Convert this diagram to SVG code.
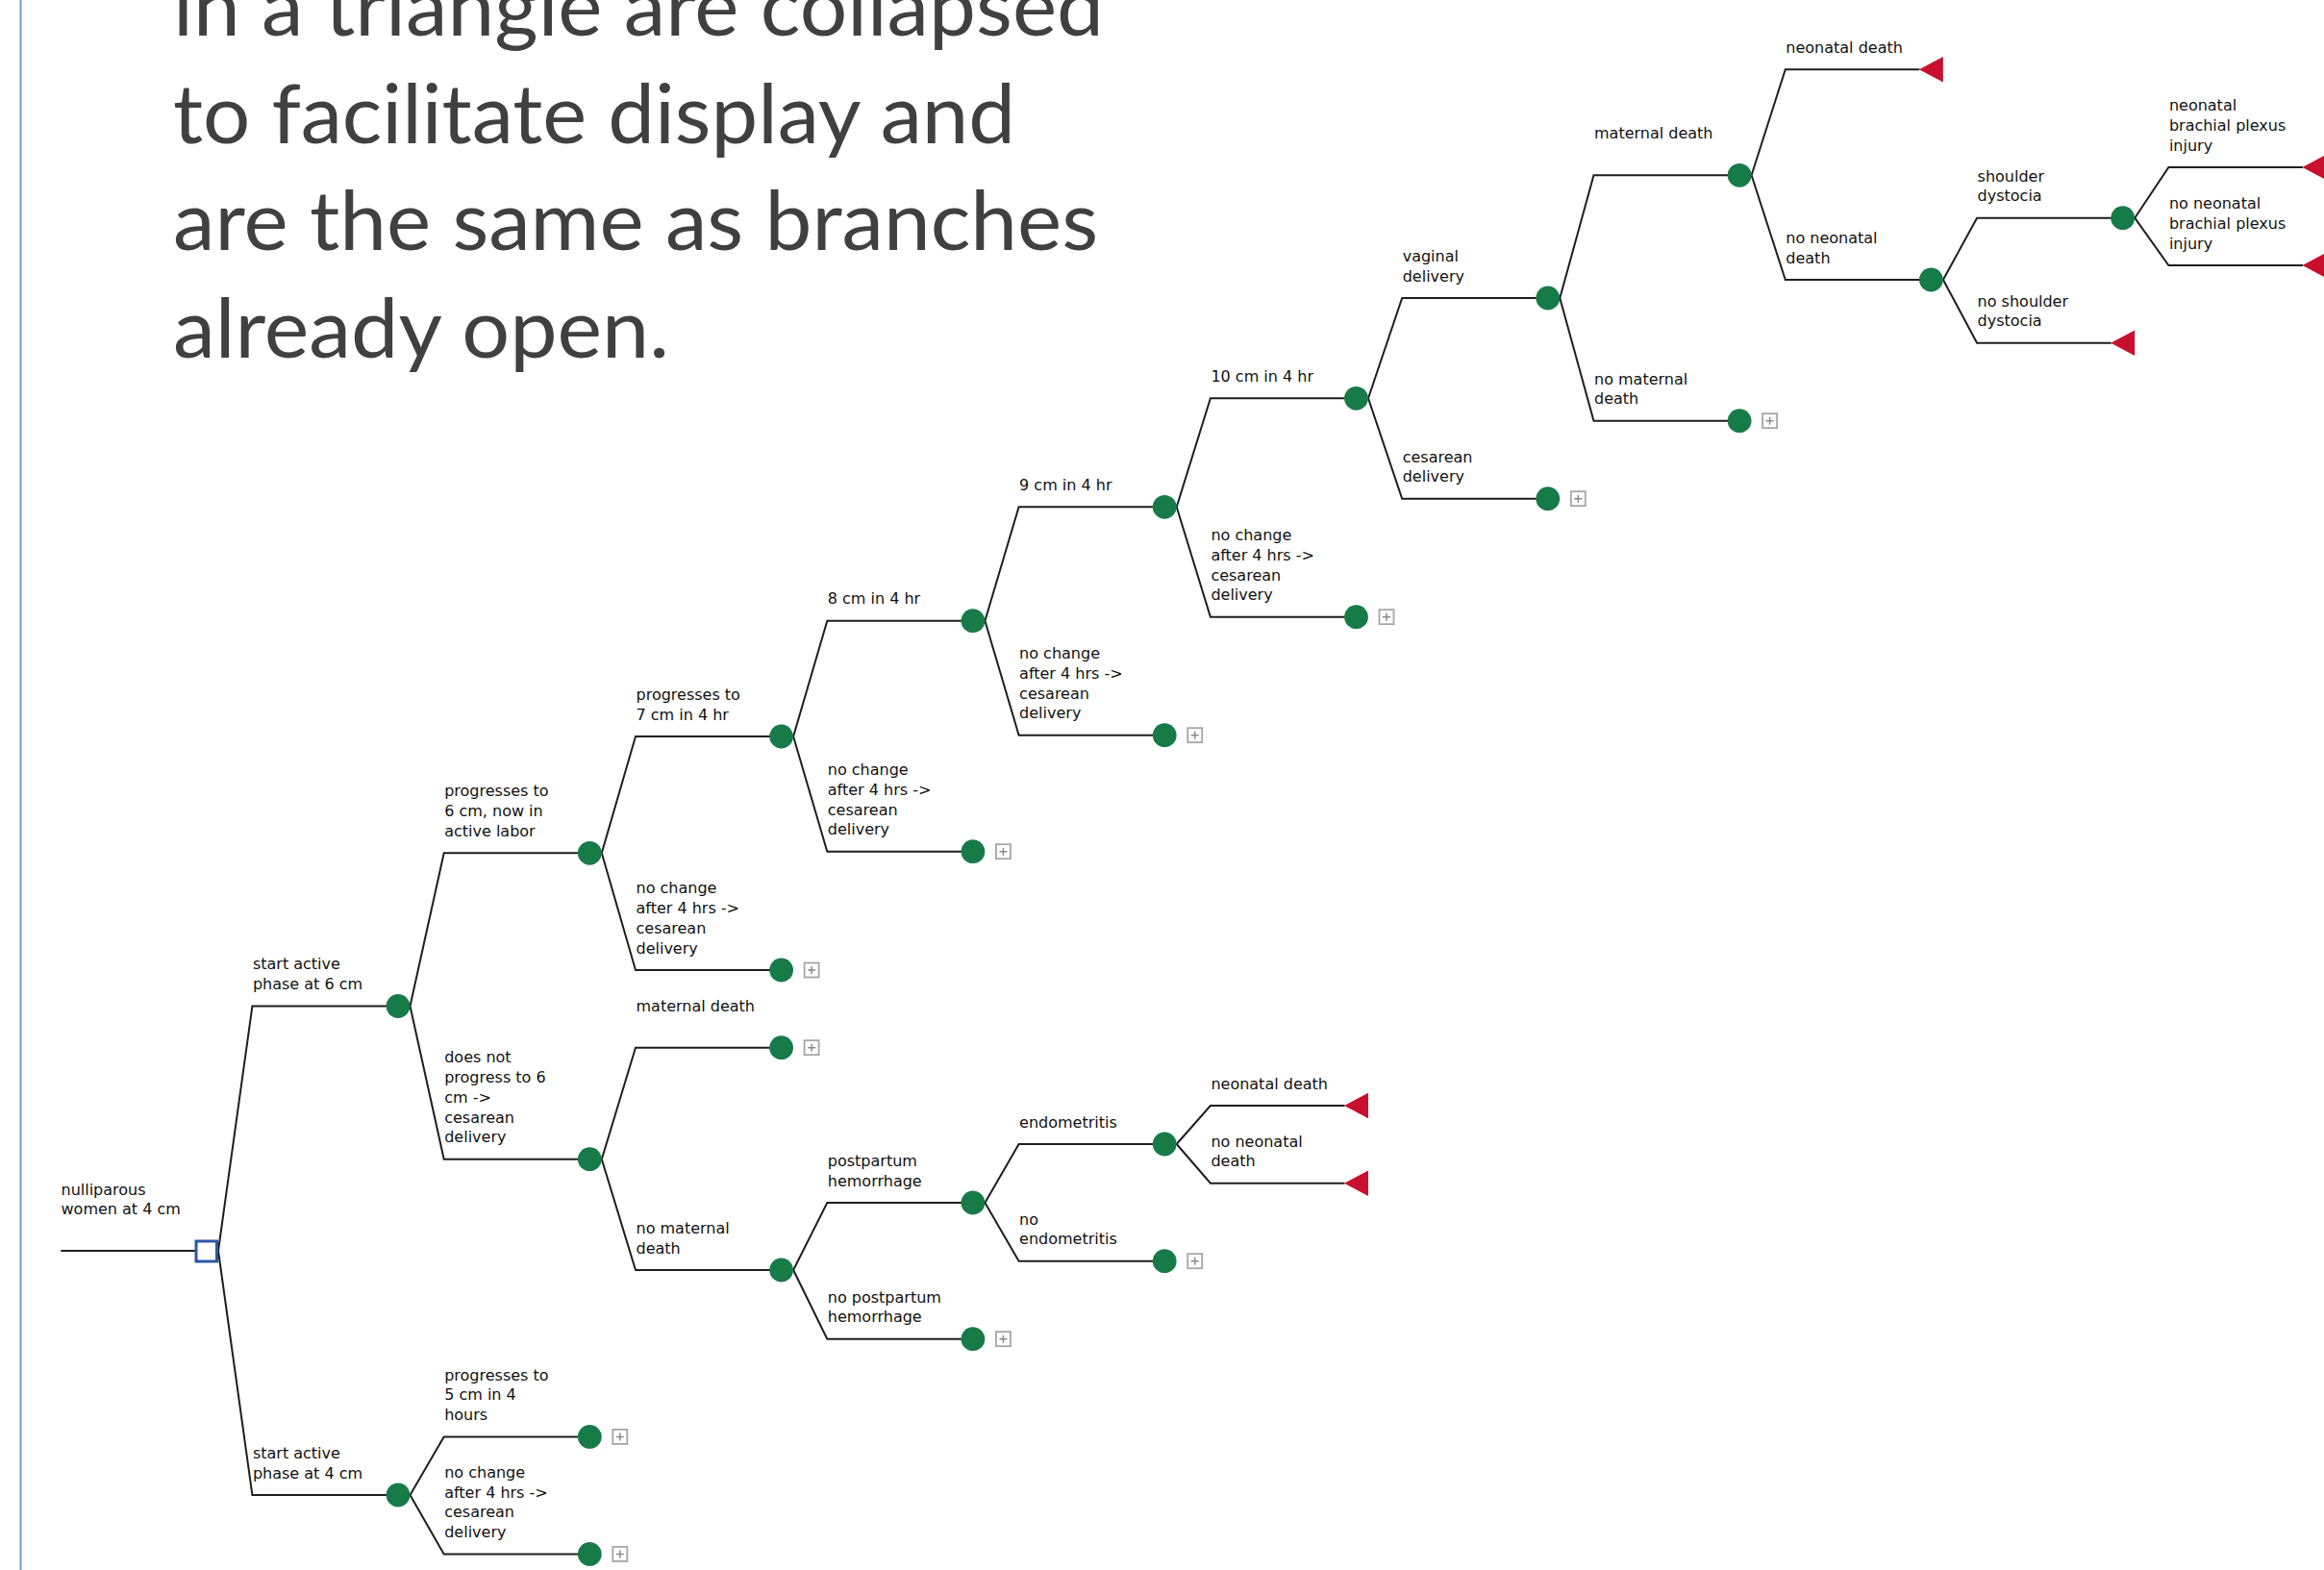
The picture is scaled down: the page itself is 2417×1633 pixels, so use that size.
<svg xmlns="http://www.w3.org/2000/svg" width="2417" height="1633" viewBox="0 0 2417 1633">
<defs>
<style>
.ln{fill:none;stroke:#1e1e1e;stroke-width:2;stroke-linejoin:miter}
.ch{fill:#177b48}
.tm{fill:#c8102e}
.lbl{font-family:"DejaVu Sans",Verdana,sans-serif;font-size:16px;fill:#111}
.pb{fill:#fff;stroke:#a6a6a6;stroke-width:1.8}
.pl{fill:none;stroke:#8a8a8a;stroke-width:1.5}
.note{font-family:Lato,"Open Sans","Liberation Sans",sans-serif;font-size:85px;fill:#404040}
</style>
<g id="plus"><rect class="pb" x="24" y="-7.5" width="15" height="15"/><path class="pl" d="M27.5,0H35.5M31.5,-4V4"/></g>
<path id="tri" class="tm" d="M-12.5,0L12.5,-13.3L12.5,13.3Z"/>
</defs>
<rect width="2417" height="1633" fill="#fff"/>
<line x1="21.5" y1="0" x2="21.5" y2="1633" stroke="#6d98cc" stroke-width="2"/>
<g id="note" class="note">
<text x="180" y="37" textLength="968" lengthAdjust="spacingAndGlyphs">in a triangle are collapsed</text>
<text x="180" y="148.6" textLength="876" lengthAdjust="spacingAndGlyphs">to facilitate display and</text>
<text x="180" y="260.2" textLength="962" lengthAdjust="spacingAndGlyphs">are the same as branches</text>
<text x="180" y="371.8" textLength="516" lengthAdjust="spacingAndGlyphs">already open.</text>
</g>
<g id="connectors" class="ln">
<path d="M63.3,1301H205"/>
<path d="M227,1301L262.4,1046.5H414"/>
<path d="M227,1301L262.4,1555H414"/>
<path d="M426.5,1046.5L461.7,887.3H613.3"/>
<path d="M426.5,1046.5L461.7,1205.7H613.3"/>
<path d="M426.5,1555L461.7,1494.4H613.3"/>
<path d="M426.5,1555L461.7,1616.4H613.3"/>
<path d="M625.8,887.3L661,766H812.6"/>
<path d="M625.8,887.3L661,1009H812.6"/>
<path d="M625.8,1205.7L661,1089.7H812.6"/>
<path d="M625.8,1205.7L661,1321H812.6"/>
<path d="M825.1,766L860.3,645.7H1011.9"/>
<path d="M825.1,766L860.3,885.7H1011.9"/>
<path d="M825.1,1321L860.3,1251H1011.9"/>
<path d="M825.1,1321L860.3,1392.7H1011.9"/>
<path d="M1024.4,645.7L1059.6,527.3H1211.2"/>
<path d="M1024.4,645.7L1059.6,764.7H1211.2"/>
<path d="M1024.4,1251L1059.6,1190H1211.2"/>
<path d="M1024.4,1251L1059.6,1311.7H1211.2"/>
<path d="M1223.7,527.3L1258.9,414.3H1410.5"/>
<path d="M1223.7,527.3L1258.9,641.7H1410.5"/>
<path d="M1223.7,1190L1258.9,1150H1398.5"/>
<path d="M1223.7,1190L1258.9,1230.7H1398.5"/>
<path d="M1423,414.3L1458.2,310H1609.8"/>
<path d="M1423,414.3L1458.2,518.7H1609.8"/>
<path d="M1622.3,310L1657.5,182.3H1809.1"/>
<path d="M1622.3,310L1657.5,437.7H1809.1"/>
<path d="M1821.6,182.3L1856.8,72.3H1996.4"/>
<path d="M1821.6,182.3L1856.8,291H2008.4"/>
<path d="M2020.9,291L2056.1,226.7H2207.7"/>
<path d="M2020.9,291L2056.1,356.7H2195.7"/>
<path d="M2220.2,226.7L2255.4,174H2395"/>
<path d="M2220.2,226.7L2255.4,276H2395"/>
</g>
<g id="n-root"><rect x="204" y="1291" width="21.5" height="21" fill="#fff" stroke="#2d56a6" stroke-width="3"/>
<text class="lbl" x="63.5" y="1242.7">nulliparous<tspan x="63.5" dy="20.7">women at 4 cm</tspan></text></g>
<g id="n-a"><circle class="ch" cx="414" cy="1046.5" r="12.4"/>
<text class="lbl" x="262.9" y="1008.3">start active<tspan x="262.9" dy="20.7">phase at 6 cm</tspan></text></g>
<g id="n-b"><circle class="ch" cx="414" cy="1555" r="12.4"/>
<text class="lbl" x="262.9" y="1516.8">start active<tspan x="262.9" dy="20.7">phase at 4 cm</tspan></text></g>
<g id="n-c"><circle class="ch" cx="613.3" cy="887.3" r="12.4"/>
<text class="lbl" x="462.2" y="828.4">progresses to<tspan x="462.2" dy="20.7">6 cm, now in</tspan><tspan x="462.2" dy="20.7">active labor</tspan></text></g>
<g id="n-d"><circle class="ch" cx="613.3" cy="1205.7" r="12.4"/>
<text class="lbl" x="462.2" y="1105.4">does not<tspan x="462.2" dy="20.7">progress to 6</tspan><tspan x="462.2" dy="20.7">cm -&gt;</tspan><tspan x="462.2" dy="20.7">cesarean</tspan><tspan x="462.2" dy="20.7">delivery</tspan></text></g>
<g id="n-e"><circle class="ch" cx="613.3" cy="1494.4" r="12.4"/><use href="#plus" transform="translate(613.3,1494.4)"/>
<text class="lbl" x="462.2" y="1435.5">progresses to<tspan x="462.2" dy="20.7">5 cm in 4</tspan><tspan x="462.2" dy="20.7">hours</tspan></text></g>
<g id="n-f"><circle class="ch" cx="613.3" cy="1616.4" r="12.4"/><use href="#plus" transform="translate(613.3,1616.4)"/>
<text class="lbl" x="462.2" y="1536.8">no change<tspan x="462.2" dy="20.7">after 4 hrs -&gt;</tspan><tspan x="462.2" dy="20.7">cesarean</tspan><tspan x="462.2" dy="20.7">delivery</tspan></text></g>
<g id="n-g"><circle class="ch" cx="812.6" cy="766" r="12.4"/>
<text class="lbl" x="661.5" y="727.8">progresses to<tspan x="661.5" dy="20.7">7 cm in 4 hr</tspan></text></g>
<g id="n-h"><circle class="ch" cx="812.6" cy="1009" r="12.4"/><use href="#plus" transform="translate(812.6,1009)"/>
<text class="lbl" x="661.5" y="929.4">no change<tspan x="661.5" dy="20.7">after 4 hrs -&gt;</tspan><tspan x="661.5" dy="20.7">cesarean</tspan><tspan x="661.5" dy="20.7">delivery</tspan></text></g>
<g id="n-i"><circle class="ch" cx="812.6" cy="1089.7" r="12.4"/><use href="#plus" transform="translate(812.6,1089.7)"/>
<text class="lbl" x="661.5" y="1051.7">maternal death</text></g>
<g id="n-j"><circle class="ch" cx="812.6" cy="1321" r="12.4"/>
<text class="lbl" x="661.5" y="1282.8">no maternal<tspan x="661.5" dy="20.7">death</tspan></text></g>
<g id="n-k"><circle class="ch" cx="1011.9" cy="645.7" r="12.4"/>
<text class="lbl" x="860.8" y="628.2">8 cm in 4 hr</text></g>
<g id="n-l"><circle class="ch" cx="1011.9" cy="885.7" r="12.4"/><use href="#plus" transform="translate(1011.9,885.7)"/>
<text class="lbl" x="860.8" y="806.1">no change<tspan x="860.8" dy="20.7">after 4 hrs -&gt;</tspan><tspan x="860.8" dy="20.7">cesarean</tspan><tspan x="860.8" dy="20.7">delivery</tspan></text></g>
<g id="n-m"><circle class="ch" cx="1011.9" cy="1251" r="12.4"/>
<text class="lbl" x="860.8" y="1212.8">postpartum<tspan x="860.8" dy="20.7">hemorrhage</tspan></text></g>
<g id="n-n"><circle class="ch" cx="1011.9" cy="1392.7" r="12.4"/><use href="#plus" transform="translate(1011.9,1392.7)"/>
<text class="lbl" x="860.8" y="1354.5">no postpartum<tspan x="860.8" dy="20.7">hemorrhage</tspan></text></g>
<g id="n-o"><circle class="ch" cx="1211.2" cy="527.3" r="12.4"/>
<text class="lbl" x="1060.1" y="509.8">9 cm in 4 hr</text></g>
<g id="n-p"><circle class="ch" cx="1211.2" cy="764.7" r="12.4"/><use href="#plus" transform="translate(1211.2,764.7)"/>
<text class="lbl" x="1060.1" y="685.1">no change<tspan x="1060.1" dy="20.7">after 4 hrs -&gt;</tspan><tspan x="1060.1" dy="20.7">cesarean</tspan><tspan x="1060.1" dy="20.7">delivery</tspan></text></g>
<g id="n-q"><circle class="ch" cx="1211.2" cy="1190" r="12.4"/>
<text class="lbl" x="1060.1" y="1172.5">endometritis</text></g>
<g id="n-r"><circle class="ch" cx="1211.2" cy="1311.7" r="12.4"/><use href="#plus" transform="translate(1211.2,1311.7)"/>
<text class="lbl" x="1060.1" y="1273.5">no<tspan x="1060.1" dy="20.7">endometritis</tspan></text></g>
<g id="n-s"><circle class="ch" cx="1410.5" cy="414.3" r="12.4"/>
<text class="lbl" x="1259.4" y="396.8">10 cm in 4 hr</text></g>
<g id="n-t"><circle class="ch" cx="1410.5" cy="641.7" r="12.4"/><use href="#plus" transform="translate(1410.5,641.7)"/>
<text class="lbl" x="1259.4" y="562.1">no change<tspan x="1259.4" dy="20.7">after 4 hrs -&gt;</tspan><tspan x="1259.4" dy="20.7">cesarean</tspan><tspan x="1259.4" dy="20.7">delivery</tspan></text></g>
<g id="n-u"><use href="#tri" transform="translate(1410.5,1150)"/>
<text class="lbl" x="1259.4" y="1132.5">neonatal death</text></g>
<g id="n-v"><use href="#tri" transform="translate(1410.5,1230.7)"/>
<text class="lbl" x="1259.4" y="1192.5">no neonatal<tspan x="1259.4" dy="20.7">death</tspan></text></g>
<g id="n-w"><circle class="ch" cx="1609.8" cy="310" r="12.4"/>
<text class="lbl" x="1458.7" y="271.8">vaginal<tspan x="1458.7" dy="20.7">delivery</tspan></text></g>
<g id="n-x"><circle class="ch" cx="1609.8" cy="518.7" r="12.4"/><use href="#plus" transform="translate(1609.8,518.7)"/>
<text class="lbl" x="1458.7" y="480.5">cesarean<tspan x="1458.7" dy="20.7">delivery</tspan></text></g>
<g id="n-y"><circle class="ch" cx="1809.1" cy="182.3" r="12.4"/>
<text class="lbl" x="1658" y="144.3">maternal death</text></g>
<g id="n-z"><circle class="ch" cx="1809.1" cy="437.7" r="12.4"/><use href="#plus" transform="translate(1809.1,437.7)"/>
<text class="lbl" x="1658" y="399.5">no maternal<tspan x="1658" dy="20.7">death</tspan></text></g>
<g id="n-aa"><use href="#tri" transform="translate(2008.4,72.3)"/>
<text class="lbl" x="1857.3" y="54.8">neonatal death</text></g>
<g id="n-ab"><circle class="ch" cx="2008.4" cy="291" r="12.4"/>
<text class="lbl" x="1857.3" y="252.8">no neonatal<tspan x="1857.3" dy="20.7">death</tspan></text></g>
<g id="n-ac"><circle class="ch" cx="2207.7" cy="226.7" r="12.4"/>
<text class="lbl" x="2056.6" y="188.5">shoulder<tspan x="2056.6" dy="20.7">dystocia</tspan></text></g>
<g id="n-ad"><use href="#tri" transform="translate(2207.7,356.7)"/>
<text class="lbl" x="2056.6" y="318.5">no shoulder<tspan x="2056.6" dy="20.7">dystocia</tspan></text></g>
<g id="n-ae"><use href="#tri" transform="translate(2407,174)"/>
<text class="lbl" x="2255.9" y="115.1">neonatal<tspan x="2255.9" dy="20.7">brachial plexus</tspan><tspan x="2255.9" dy="20.7">injury</tspan></text></g>
<g id="n-af"><use href="#tri" transform="translate(2407,276)"/>
<text class="lbl" x="2255.9" y="217.1">no neonatal<tspan x="2255.9" dy="20.7">brachial plexus</tspan><tspan x="2255.9" dy="20.7">injury</tspan></text></g>
</svg>
